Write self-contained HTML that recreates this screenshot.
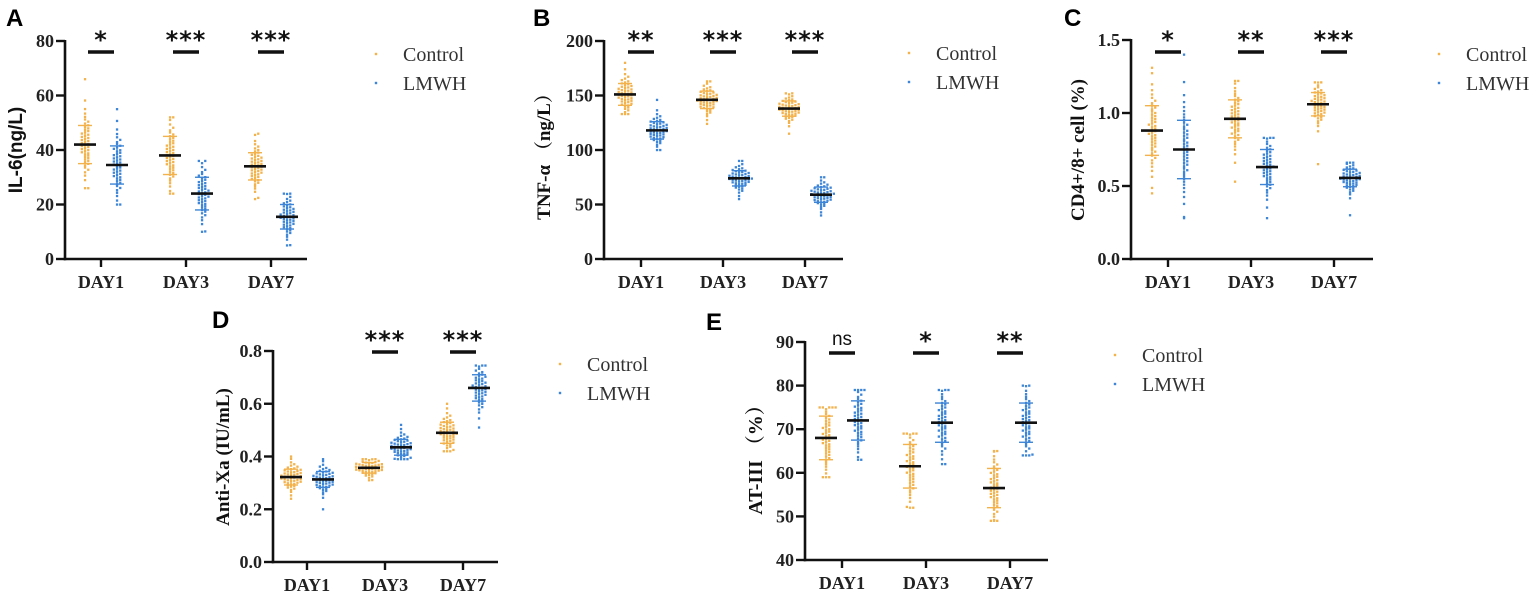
<!DOCTYPE html>
<html><head><meta charset="utf-8">
<style>
html,body{margin:0;padding:0;background:#fff;}
svg{display:block;}
</style></head>
<body>
<svg id="fig" width="1535" height="594" viewBox="0 0 1535 594" xmlns="http://www.w3.org/2000/svg"></svg>
<script>
// ---- data ----
const categories = ["DAY1","DAY3","DAY7"];
const seriesNames = ["Control","LMWH"];
// Panel A IL-6
const aCtrlMean=[42,38,34], aLmwhMean=[34.5,24,15.5];
const aCtrlSd=[7,7,5], aLmwhSd=[7,6,4.5];
const aCtrlMin=[26,24,22], aCtrlMax=[66,52,46], aLmwhMin=[20,10,5], aLmwhMax=[55,36,24];
const aTicks=[0,20,40,60,80], aTickLabels=["0","20","40","60","80"], aSig=["*","***","***"];
// Panel B TNF-a
const bCtrlMean=[151,146,138], bLmwhMean=[118,74,59];
const bCtrlSd=[10,8,7], bLmwhSd=[8,7,7];
const bCtrlMin=[133,124,115], bCtrlMax=[180,163,152], bLmwhMin=[100,55,40], bLmwhMax=[146,90,75];
const bTicks=[0,50,100,150,200], bTickLabels=["0","50","100","150","200"], bSig=["**","***","***"];
// Panel C CD4/CD8
const cCtrlMean=[0.88,0.96,1.06], cLmwhMean=[0.75,0.63,0.555];
const cCtrlSd=[0.17,0.13,0.08], cLmwhSd=[0.2,0.12,0.06];
const cCtrlMin=[0.45,0.53,0.65], cCtrlMax=[1.31,1.22,1.21], cLmwhMin=[0.28,0.28,0.3], cLmwhMax=[1.4,0.83,0.66];
const cTicks=[0,0.5,1,1.5], cTickLabels=["0.0","0.5","1.0","1.5"], cSig=["*","**","***"];
// Panel D Anti-Xa
const dCtrlMean=[0.322,0.357,0.49], dLmwhMean=[0.313,0.435,0.66];
const dCtrlSd=[0.03,0.02,0.04], dLmwhSd=[0.03,0.03,0.05];
const dCtrlMin=[0.24,0.31,0.42], dCtrlMax=[0.40,0.39,0.60], dLmwhMin=[0.20,0.39,0.51], dLmwhMax=[0.39,0.52,0.745];
const dTicks=[0,0.2,0.4,0.6,0.8], dTickLabels=["0.0","0.2","0.4","0.6","0.8"], dSig=["","***","***"];
// Panel E AT-III
const eCtrlMean=[68,61.5,56.5], eLmwhMean=[72,71.5,71.5];
const eCtrlSd=[5,5,4.5], eLmwhSd=[4.5,4.5,4.5];
const eCtrlMin=[59,52,49], eCtrlMax=[75,69,65], eLmwhMin=[63,62,64], eLmwhMax=[79,79,80];
const eTicks=[40,50,60,70,80,90], eTickLabels=["40","50","60","70","80","90"], eSig=["ns","*","**"];

const NS="http://www.w3.org/2000/svg";
const svg=document.getElementById('fig');
const COL=["#f3b24c","#3d85d6"];
function mk(tag,attrs,parent){const e=document.createElementNS(NS,tag);for(const k in attrs)e.setAttribute(k,attrs[k]);(parent||svg).appendChild(e);return e;}
function txt(s,attrs,parent){const e=mk('text',attrs,parent);e.textContent=s;return e;}
function nq(p){const a=[-39.696830,220.946098,-275.928510,138.357751,-30.664798,2.506628],b=[-54.476098,161.585836,-155.698979,66.801311,-13.280681],c=[-0.007784894,-0.32239645,-2.400758,-2.549732,4.374664,2.938163],d=[0.007784695,0.32246712,2.445134,3.754408];
let q,r;if(p<0.02425){q=Math.sqrt(-2*Math.log(p));return(((((c[0]*q+c[1])*q+c[2])*q+c[3])*q+c[4])*q+c[5])/((((d[0]*q+d[1])*q+d[2])*q+d[3])*q+1);}
if(p>1-0.02425){q=Math.sqrt(-2*Math.log(1-p));return-(((((c[0]*q+c[1])*q+c[2])*q+c[3])*q+c[4])*q+c[5])/((((d[0]*q+d[1])*q+d[2])*q+d[3])*q+1);}
q=p-0.5;r=q*q;return(((((a[0]*r+a[1])*r+a[2])*r+a[3])*r+a[4])*r+a[5])*q/(((((b[0]*r+b[1])*r+b[2])*r+b[3])*r+b[4])*r+1);}

function panel(P){
  const g=mk('g',{});
  
  
  const y=v=>P.y0+(v-P.vmin)/(P.vmax-P.vmin)*(P.y1-P.y0);
  const x=i=>P.cx[0]+i*(P.cx[1]-P.cx[0]);
  const L=txt(P.letter,{x:P.lx,y:P.ly,'font-family':'Liberation Sans, sans-serif','font-weight':'bold','font-size':24,fill:'#000'},g);
  
  const ax=mk('g',{},g);
  mk('line',{x1:P.ax,y1:P.y1-1,x2:P.ax,y2:P.y0+1.2,stroke:'#111','stroke-width':2.6},ax);
  P.ticks.forEach((t,i)=>{mk('line',{x1:P.ax-9,y1:y(t),x2:P.ax,y2:y(t),stroke:'#111','stroke-width':2.4},ax);
    const tl=txt(P.tickLabels[i],{x:P.ax-11,y:y(t)+6,'text-anchor':'end','font-family':'Liberation Serif, serif','font-weight':'bold','font-size':18,fill:'#222'},ax);
    });
  const xa=mk('g',{},g);
  mk('line',{x1:P.ax-1.3,y1:P.y0,x2:P.xend,y2:P.y0,stroke:'#111','stroke-width':2.6},xa);
  categories.forEach((c,i)=>{mk('line',{x1:x(i),y1:P.y0,x2:x(i),y2:P.y0+8,stroke:'#111','stroke-width':2.4},xa);
    const tl=txt(c,{x:x(i),y:P.y0+29,'text-anchor':'middle','font-family':'Liberation Serif, serif','font-weight':'bold','font-size':18,fill:'#222'},xa);
    });
  const yt=txt(P.ytitle,{x:0,y:0,transform:`translate(${P.tx},${P.ty}) rotate(-90)`,'text-anchor':'middle','font-family':P.tfont,'font-weight':'bold','font-size':P.tsize||19,fill:'#111'},g);
  
  [[P.cm,P.cs,P.cmin,P.cmax],[P.lm,P.ls,P.lmin,P.lmax]].forEach((S,si)=>{
    const sg=mk('g',{},g);
    categories.forEach((c,i)=>{
      const cx=x(i)+(si?16:-16);
      const m=S[0][i],sd=S[1][i],lo=S[2][i],hi=S[3][i];
      const n=50,vals=[lo,hi];
      for(let k=0;k<n-2;k++){let v=m+sd*nq((k+0.5)/(n-2));vals.push(Math.max(lo,Math.min(hi,v)));}
      vals.sort((p,q)=>p-q);
      const bins={};
      vals.forEach(v=>{const py=y(v);const b=Math.round(py/3);const cnt=bins[b]||0;bins[b]=cnt+1;
        const off=cnt===0?0:(cnt%2?1:-1)*Math.ceil(cnt/2)*3.2;const dx=Math.max(-13,Math.min(13,off));
        const d=mk('rect',{x:cx+dx-1.1,y:py-1.1,width:2.3,height:2.3,fill:COL[si]},sg);
        });
      const eb=mk('g',{stroke:COL[si],'stroke-width':1.4},sg);
      mk('line',{x1:cx,y1:y(m-sd),x2:cx,y2:y(m+sd)},eb);
      mk('line',{x1:cx-7,y1:y(m-sd),x2:cx+7,y2:y(m-sd)},eb);
      mk('line',{x1:cx-7,y1:y(m+sd),x2:cx+7,y2:y(m+sd)},eb);
      const ml=mk('line',{x1:cx-11,y1:y(m),x2:cx+11,y2:y(m),stroke:'#111','stroke-width':2.6},sg);
      
    });
  });
  P.sig.forEach((s,i)=>{if(!s)return;const sgg=mk('g',{},g);
    mk('line',{x1:x(i)-13,y1:P.sy,x2:x(i)+13,y2:P.sy,stroke:'#111','stroke-width':3.5},sgg);
    if(s==='ns')txt(s,{x:x(i),y:P.sy-8,'text-anchor':'middle','font-family':'Liberation Sans, sans-serif','font-size':19,fill:'#111'},sgg);
    else txt(s,{x:x(i),y:P.sy-4,'text-anchor':'middle','font-family':'DejaVu Sans, sans-serif','font-weight':'bold','font-size':24,'letter-spacing':'1',fill:'#111'},sgg);
  });
  const lg=mk('g',{},g);
  seriesNames.forEach((s,si)=>{const e=mk('g',{},lg);
    const ly=P.legy+si*29;
    mk('rect',{x:P.legx-1.2,y:ly-1.2,width:2.4,height:2.4,fill:COL[si]},e);
    txt(s,{x:P.legx+27,y:ly+7,'font-family':'Liberation Serif, serif','font-size':20,fill:'#333'},e);});
}

panel({name:'panel-a-il6',letter:'A',lx:6,ly:26,ax:65,y0:259,y1:41,vmin:0,vmax:80,cx:[101,186],xend:307,ticks:aTicks,tickLabels:aTickLabels,
 ytitle:'IL-6(ng/L)',tx:22,ty:150,tfont:'Liberation Sans, sans-serif',tsize:19,cm:aCtrlMean,cs:aCtrlSd,cmin:aCtrlMin,cmax:aCtrlMax,lm:aLmwhMean,ls:aLmwhSd,lmin:aLmwhMin,lmax:aLmwhMax,sig:aSig,sy:52,legx:376,legy:54});
panel({name:'panel-b-tnf',letter:'B',lx:533,ly:26,ax:604,y0:259,y1:41,vmin:0,vmax:200,cx:[641,723],xend:843,ticks:bTicks,tickLabels:bTickLabels,
 ytitle:'TNF-α （ng/L）',tx:550,ty:152,tfont:'Liberation Serif, "Noto Serif CJK SC", serif',tsize:19,cm:bCtrlMean,cs:bCtrlSd,cmin:bCtrlMin,cmax:bCtrlMax,lm:bLmwhMean,ls:bLmwhSd,lmin:bLmwhMin,lmax:bLmwhMax,sig:bSig,sy:52,legx:909,legy:53});
panel({name:'panel-c-cd4cd8',letter:'C',lx:1064,ly:26,ax:1131,y0:259,y1:40,vmin:0,vmax:1.5,cx:[1168,1251],xend:1373,ticks:cTicks,tickLabels:cTickLabels,
 ytitle:'CD4+/8+ cell (%)',tx:1084,ty:150,tfont:'Liberation Serif, serif',tsize:19,cm:cCtrlMean,cs:cCtrlSd,cmin:cCtrlMin,cmax:cCtrlMax,lm:cLmwhMean,ls:cLmwhSd,lmin:cLmwhMin,lmax:cLmwhMax,sig:cSig,sy:52,legx:1439,legy:54});
panel({name:'panel-d-antixa',letter:'D',lx:212,ly:328,ax:273,y0:562,y1:351,vmin:0,vmax:0.8,cx:[307,385],xend:498,ticks:dTicks,tickLabels:dTickLabels,
 ytitle:'Anti-Xa (IU/mL)',tx:229,ty:457,tfont:'Liberation Serif, serif',tsize:19,cm:dCtrlMean,cs:dCtrlSd,cmin:dCtrlMin,cmax:dCtrlMax,lm:dLmwhMean,ls:dLmwhSd,lmin:dLmwhMin,lmax:dLmwhMax,sig:dSig,sy:352,legx:560,legy:364});
panel({name:'panel-e-at3',letter:'E',lx:706,ly:330,ax:805,y0:560,y1:342,vmin:40,vmax:90,cx:[842,926],xend:1048,ticks:eTicks,tickLabels:eTickLabels,
 ytitle:'AT-III （%）',tx:762,ty:455,tfont:'Liberation Serif, "Noto Serif CJK SC", serif',tsize:20,cm:eCtrlMean,cs:eCtrlSd,cmin:eCtrlMin,cmax:eCtrlMax,lm:eLmwhMean,ls:eLmwhSd,lmin:eLmwhMin,lmax:eLmwhMax,sig:eSig,sy:353,legx:1115,legy:355});
</script>
</body></html>
